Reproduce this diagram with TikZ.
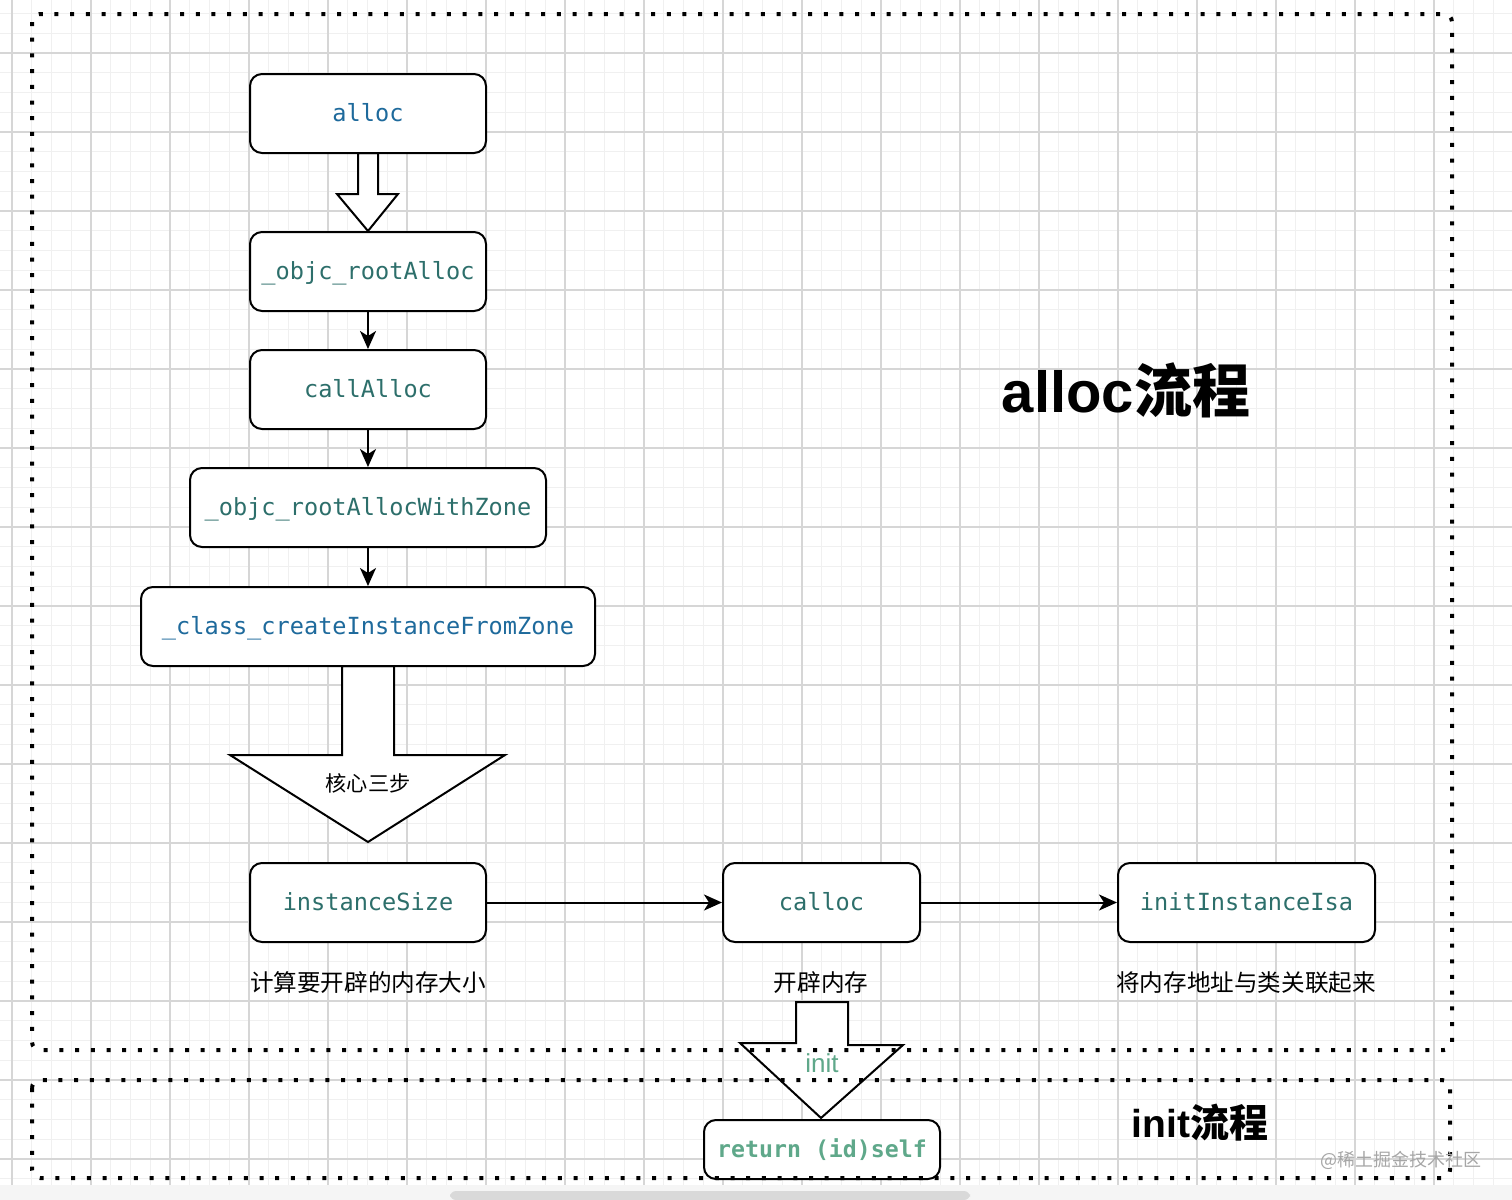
\documentclass[tikz,border=0pt]{standalone}
\usepackage{fontspec}
\setmonofont{DejaVu Sans Mono}
\setsansfont{Liberation Sans}
\newfontfamily\cjk{Noto Sans CJK SC}
\usetikzlibrary{arrows.meta}

\definecolor{codeblue}{HTML}{1E6A9C}
\definecolor{codeteal}{HTML}{2D6F6B}
\definecolor{codegreen}{HTML}{5FA88A}
\definecolor{gridminor}{HTML}{F0F0F0}
\definecolor{gridmajor}{HTML}{D6D6D6}

\tikzset{
    codebox/.style={draw, line width=1pt, rounded corners=6pt, fill=white,
        minimum width=118pt, minimum height=39.5pt, inner sep=0pt,
        text height=0.85em, text depth=0.1em,
        font=\ttfamily\fontsize{11.8}{14}\selectfont, text=codeteal},
    capt/.style={font=\cjk\fontsize{11.8}{14}\selectfont},
    flow/.style={line width=1pt, -{Stealth[length=9pt, width=8pt, inset=2.5pt]}},
    blockarrow/.style={draw, line width=1pt, fill=white, line join=miter},
    zone/.style={line width=2pt, dash pattern=on 2pt off 5.85pt, rounded corners=4pt}
}

\begin{document}
\begin{tikzpicture}[x=0.5pt, y=-0.5pt]
        \useasboundingbox (0,0) rectangle (1512,1200);

        %%the grid
        \foreach \i in {0,...,75}
            \draw[gridminor, line width=0.5pt] ({12+19.75*\i},0) -- ({12+19.75*\i},1185);
        \foreach \j in {0,...,59}
            \draw[gridminor, line width=0.5pt] (0,{13.5+19.75*\j}) -- (1512,{13.5+19.75*\j});
        \foreach \i in {0,...,18}
            \draw[gridmajor, line width=0.6pt] ({12+79*\i},0) -- ({12+79*\i},1185);
        \foreach \j in {0,...,14}
            \draw[gridmajor, line width=0.6pt] (0,{53+79*\j}) -- (1512,{53+79*\j});
        \fill[black!4] (0,1185) rectangle (1512,1200);
        \fill[black!15, rounded corners=3pt] (450,1191) rectangle (970,1200);

        %%the block arrows
        \draw[blockarrow] (358,153) -- (358,194) -- (337,194) -- (368,231)
            -- (398,194) -- (378,194) -- (378,153) -- cycle;
        \draw[blockarrow] (342,666) -- (342,755) -- (230,755) -- (368,842)
            -- (505,755) -- (394,755) -- (394,666) -- cycle;
        \draw[blockarrow] (796,1002) -- (796,1043) -- (740,1043) -- (821,1118)
            -- (903,1045) -- (848,1045) -- (848,1002) -- cycle;
            \node (core) at (368,783) {\cjk\fontsize{10.6}{12}\selectfont 核心三步};
            \node[text=codegreen, font=\sffamily\fontsize{13}{15}\selectfont] (initlbl) at (822,1063) {init};

        %%the boxes
        \node[codebox, text=codeblue] (alloc) at (368,113.5) {alloc};
        \node[codebox] (rootAlloc) at (368,271.5) {\_objc\_rootAlloc};
        \node[codebox] (callAlloc) at (368,389.5) {callAlloc};
        \node[codebox, minimum width=178pt] (withZone) at (368,507.5) {\_objc\_rootAllocWithZone};
        \node[codebox, minimum width=227pt, text=codeblue] (fromZone) at (368,626.5) {\_class\_createInstanceFromZone};

        \node[codebox] (instSize) at (368,902.5) {instanceSize};
            \node[capt] (instSizeTxt) at (368,983) {计算要开辟的内存大小};
        \node[codebox, minimum width=98.5pt] (calloc) at (821.5,902.5) {calloc};
            \node[capt] (callocTxt) at (821,983) {开辟内存};
        \node[codebox, minimum width=128.5pt] (initIsa) at (1246.5,902.5) {initInstanceIsa};
            \node[capt] (initIsaTxt) at (1246,983) {将内存地址与类关联起来};

        \node[codebox, minimum height=29.5pt, text=codegreen, font=\ttfamily\bfseries\fontsize{11.6}{14}\selectfont] (retSelf) at (822,1149.5) {return (id)self};

        %%the connectors
        \draw[flow] (rootAlloc) -- (callAlloc);
        \draw[flow] (callAlloc) -- (withZone);
        \draw[flow] (withZone) -- (fromZone);
        \draw[flow] (instSize) -- (calloc);
        \draw[flow] (calloc) -- (initIsa);

        %%the two zones
        \draw[zone] (32,14) rectangle (1452,1050);
        \draw[zone] (32,1080) rectangle (1450,1178);

        \node (allocTitle) at (1126,390) {\fontsize{29}{32}\selectfont\sffamily\bfseries alloc\cjk\bfseries 流程};
        \node (initTitle) at (1200,1123) {\fontsize{19.5}{22}\selectfont\sffamily\bfseries init\cjk\bfseries 流程};
        \node[text=black!35] (mark) at (1401,1160) {\cjk\fontsize{9}{10}\selectfont @稀土掘金技术社区};
\end{tikzpicture}
\end{document}
